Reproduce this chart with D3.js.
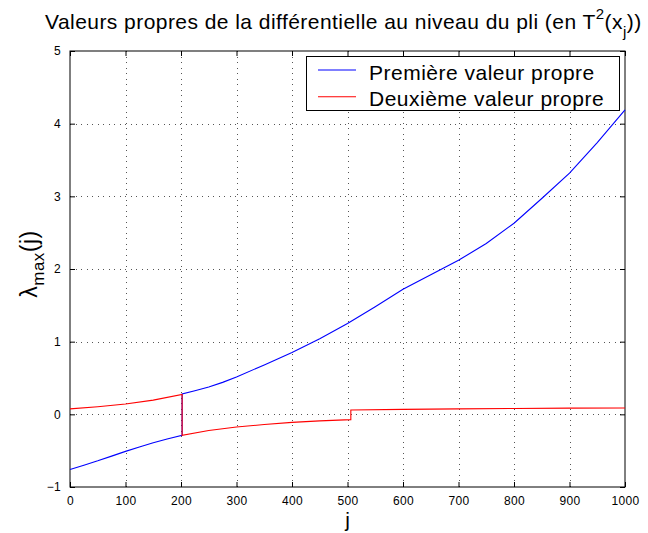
<!DOCTYPE html>
<html>
<head>
<meta charset="utf-8">
<script src="https://cdn.jsdelivr.net/npm/d3@7"></script>
<style>
  html, body { margin: 0; padding: 0; background: #fff; }
  svg { display: block; font-family: "Liberation Sans", Arial, Helvetica, sans-serif; }
</style>
</head>
<body>
<svg id="chart" width="648" height="533"></svg>
<script>
// Index j along the fold and the two eigenvalues of the differential.
// Repeated j values mark the jumps where the branches are swapped.
const jFirst = [0, 25, 50, 75, 100, 125, 150, 175, 202,
                202, 225, 250, 275, 300, 350, 400, 450, 500, 550, 600, 650, 700, 750, 800, 850, 900, 950, 1000];
const firstValues = [-0.76, -0.70, -0.64, -0.575, -0.51, -0.45, -0.39, -0.34, -0.29,
                     0.28, 0.325, 0.375, 0.44, 0.515, 0.68, 0.85, 1.04, 1.25, 1.48, 1.72, 1.92, 2.12, 2.35, 2.63, 2.97, 3.32, 3.74, 4.19];

const jSecond = [0, 50, 100, 150, 202,
                 202, 250, 300, 350, 400, 450, 506,
                 506, 600, 700, 800, 900, 1000];
const secondValues = [0.075, 0.105, 0.143, 0.195, 0.275,
                      -0.29, -0.222, -0.175, -0.14, -0.11, -0.09, -0.073,
                      0.06, 0.068, 0.075, 0.08, 0.085, 0.088];

const seriesNames = ["Première valeur propre", "Deuxième valeur propre"];
const seriesColors = ["#0000ff", "#ff0000"];

const xTicks = [0, 100, 200, 300, 400, 500, 600, 700, 800, 900, 1000];
const yTicks = [-1, 0, 1, 2, 3, 4, 5];

const svg = d3.select("#chart");
const plotLeft = 70, plotRight = 625, plotTop = 51, plotBottom = 487;

const x = d3.scaleLinear().domain([0, 1000]).range([plotLeft, plotRight]);
const y = d3.scaleLinear().domain([-1, 5]).range([plotBottom, plotTop]);

// dotted grid
const grid = svg.append("g").attr("stroke", "#555").attr("stroke-width", 1)
  .attr("stroke-dasharray", "1,4.5").attr("shape-rendering", "crispEdges");
xTicks.slice(1, -1).forEach(t => {
  grid.append("line").attr("x1", Math.round(x(t)) + 0.5).attr("x2", Math.round(x(t)) + 0.5)
    .attr("y1", plotTop).attr("y2", plotBottom);
});
yTicks.slice(1, -1).forEach(t => {
  grid.append("line").attr("y1", Math.round(y(t)) + 0.5).attr("y2", Math.round(y(t)) + 0.5)
    .attr("x1", plotLeft).attr("x2", plotRight);
});

// axes with inward ticks on all four sides
const fmt = d => d < 0 ? "\u2212" + Math.abs(d) : String(d);
const axB = svg.append("g").attr("transform", `translate(0,${plotBottom})`)
  .call(d3.axisBottom(x).tickValues(xTicks).tickSizeInner(-5).tickSizeOuter(0).tickPadding(9).tickFormat(fmt));
const axT = svg.append("g").attr("transform", `translate(0,${plotTop})`)
  .call(d3.axisTop(x).tickValues(xTicks).tickSizeInner(-5).tickSizeOuter(0).tickFormat(""));
const axL = svg.append("g").attr("transform", `translate(${plotLeft},0)`)
  .call(d3.axisLeft(y).tickValues(yTicks).tickSizeInner(-5).tickSizeOuter(0).tickPadding(9).tickFormat(fmt));
const axR = svg.append("g").attr("transform", `translate(${plotRight},0)`)
  .call(d3.axisRight(y).tickValues(yTicks).tickSizeInner(-5).tickSizeOuter(0).tickFormat(""));
[axB, axT, axL, axR].forEach(a => {
  a.select(".domain").remove();
  a.selectAll("line").attr("stroke", "#000");
  a.selectAll("text").attr("font-size", 12).attr("fill", "#000").attr("letter-spacing", 0.3)
    .attr("font-family", "\"Liberation Sans\", Arial, sans-serif");
});
svg.append("rect").attr("x", plotLeft).attr("y", plotTop)
  .attr("width", plotRight - plotLeft).attr("height", plotBottom - plotTop)
  .attr("fill", "none").attr("stroke", "#000").attr("stroke-width", 1);

// curves
const line = d3.line().x(d => x(d[0])).y(d => y(d[1]));
const firstSeries = jFirst.map((j, i) => [j, firstValues[i]]);
const secondSeries = jSecond.map((j, i) => [j, secondValues[i]]);
[firstSeries, secondSeries].forEach((s, i) => {
  svg.append("path").datum(s).attr("d", line).attr("fill", "none")
    .attr("stroke", seriesColors[i]).attr("stroke-width", 1.1);
});

// legend
const lg = svg.append("g");
lg.append("rect").attr("x", 306.5).attr("y", 56.5).attr("width", 313).attr("height", 54)
  .attr("fill", "#fff").attr("stroke", "#000").attr("stroke-width", 1);
seriesNames.forEach((name, i) => {
  const yy = 70 + i * 26.7;
  lg.append("line").attr("x1", 318).attr("x2", 356).attr("y1", yy).attr("y2", yy)
    .attr("stroke", seriesColors[i]).attr("stroke-width", 1.1);
  lg.append("text").attr("x", 369).attr("y", yy + 9.5).attr("font-size", 21)
    .attr("letter-spacing", 0.5).text(name);
});

// title
const title = svg.append("text").attr("x", 45).attr("y", 29).attr("font-size", 21)
  .attr("letter-spacing", 0.45);
title.append("tspan").text("Valeurs propres de la différentielle au niveau du pli (en T");
title.append("tspan").attr("font-size", 15).attr("dy", -10).text("2");
title.append("tspan").attr("dy", 10).text("(x");
title.append("tspan").attr("font-size", 15).attr("dy", 8).text("j");
title.append("tspan").attr("dy", -8).text("))");

// axis labels
svg.append("text").attr("x", (plotLeft + plotRight) / 2).attr("y", 527).attr("text-anchor", "middle")
  .attr("font-size", 21).text("j");
const yl = svg.append("text").attr("transform", "translate(37,264) rotate(-90)")
  .attr("text-anchor", "middle").attr("font-size", 23).attr("letter-spacing", 0.5);
yl.append("tspan").text("λ");
yl.append("tspan").attr("font-size", 17).attr("dy", 7).text("max");
yl.append("tspan").attr("dy", -7).text("(j)");
</script>
</body>
</html>
